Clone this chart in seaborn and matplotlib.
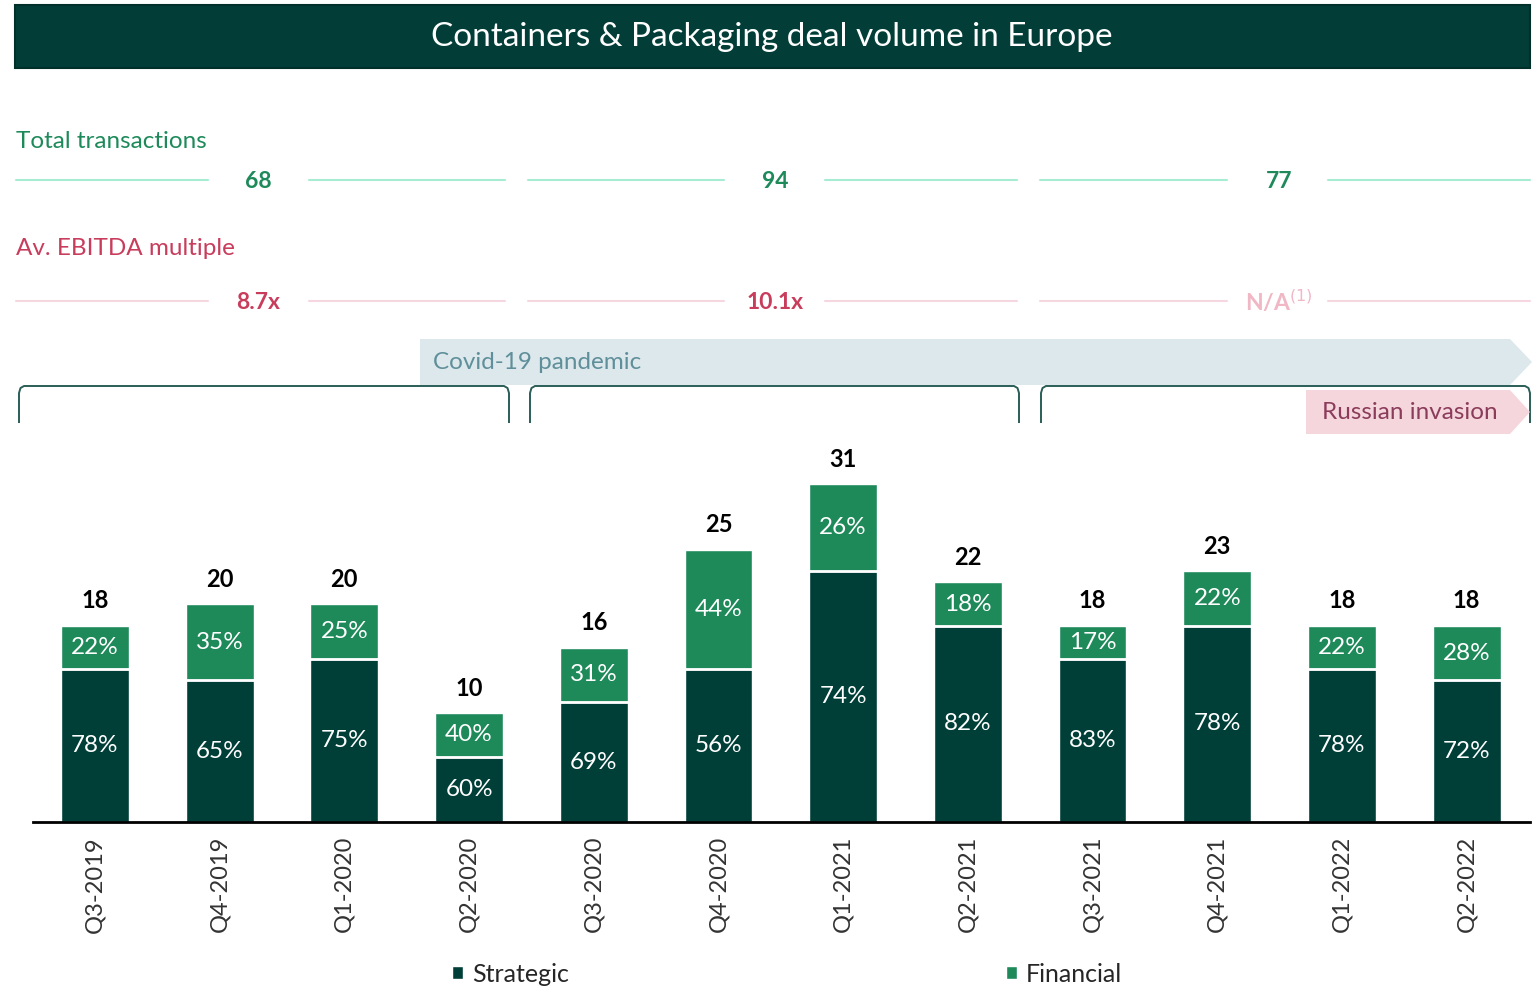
import pandas as pd
import matplotlib.pyplot as plt
from matplotlib.patches import Polygon, Rectangle, Patch
import seaborn as sns

# Data
quarters = ['Q3-2019', 'Q4-2019', 'Q1-2020', 'Q2-2020', 'Q3-2020', 'Q4-2020',
            'Q1-2021', 'Q2-2021', 'Q3-2021', 'Q4-2021', 'Q1-2022', 'Q2-2022']
totals = [18, 20, 20, 10, 16, 25, 31, 22, 18, 23, 18, 18]
strategic = [14, 13, 15, 6, 11, 14, 23, 18, 15, 18, 14, 13]
strategic_pct = ['78%', '65%', '75%', '60%', '69%', '56%', '74%', '82%', '83%', '78%', '78%', '72%']
financial_pct = ['22%', '35%', '25%', '40%', '31%', '44%', '26%', '18%', '17%', '22%', '22%', '28%']
period_transactions = ['68', '94', '77']
period_multiple = ['8.7x', '10.1x', 'N/A$^{(1)}$']

STRAT = '#003f38'
FIN = '#1e8a5a'
BANNER = '#023e37'
MINT = '#a6ecd2'
PINK_LINE = '#f6d6df'
CRIMSON = '#c83c5c'
NA_PINK = '#f0b7c5'
BRACKET = '#2b5e58'

sns.set_theme(style='white')
plt.rcParams['font.family'] = ['Lato', 'DejaVu Sans']

df = pd.DataFrame({'quarter': quarters, 'total': totals, 'strategic': strategic})

W, H = 1538, 988
fig = plt.figure(figsize=(W / 100, H / 100), dpi=100)

# decoration layer in pixel coordinates
deco = fig.add_axes([0, 0, 1, 1], zorder=0)
deco.set_xlim(0, W)
deco.set_ylim(H, 0)
deco.axis('off')

# title banner
deco.add_patch(Rectangle((15, 5), 1515, 63, facecolor=BANNER, edgecolor='#01302a', lw=1.5))
deco.text(772, 37, 'Containers & Packaging deal volume in Europe', color='white',
          fontsize=24, ha='center', va='center')

# period summaries
deco.text(16, 141, 'Total transactions', color=FIN, fontsize=17.5, va='center')
deco.text(16, 248, 'Av. EBITDA multiple', color=CRIMSON, fontsize=17.5, va='center')
segments = [(16, 208, 309, 505, 258), (528, 724, 825, 1017, 775), (1040, 1227, 1328, 1530, 1279)]
for (a, b, c, d, cx), tr, mu in zip(segments, period_transactions, period_multiple):
    deco.plot([a, b], [180, 180], color=MINT, lw=1.5)
    deco.plot([c, d], [180, 180], color=MINT, lw=1.5)
    deco.plot([a, b], [301, 301], color=PINK_LINE, lw=1.5)
    deco.plot([c, d], [301, 301], color=PINK_LINE, lw=1.5)
    deco.text(cx, 182, tr, color=FIN, fontsize=16.5, fontweight='bold', ha='center', va='center')
    col = NA_PINK if mu.startswith('N/A') else CRIMSON
    deco.text(cx, 302, mu, color=col, fontsize=16.5, fontweight='bold', ha='center', va='center')

# Covid-19 arrow banner
deco.add_patch(Polygon([(420, 339), (1510, 339), (1532, 362), (1510, 385), (420, 385)],
                       closed=True, facecolor='#dde8ec', edgecolor='none'))
deco.text(433, 362, 'Covid-19 pandemic', color='#5f8f9a', fontsize=17.5, va='center')

# brackets
for left, right in [(19, 509), (530, 1019), (1041, 1530)]:
    xs = [left, left, left + 1.5, left + 5, right - 5, right - 1.5, right, right]
    ys = [423, 393, 388, 386, 386, 388, 393, 423]
    deco.plot(xs, ys, color=BRACKET, lw=1.4, solid_capstyle='butt')

# Russian invasion arrow
deco.add_patch(Polygon([(1306, 390), (1510, 390), (1530, 412), (1510, 434), (1306, 434)],
                       closed=True, facecolor='#f5d6dd', edgecolor='none', zorder=3))
deco.text(1322, 412, 'Russian invasion', color='#8b3c5a', fontsize=17.5, va='center', zorder=4)

# bar chart
ax = fig.add_axes([33 / W, (H - 822) / H, (1530 - 33) / W, (822 - 440) / H], zorder=2)
ax.patch.set_alpha(0)
sns.barplot(data=df, x='quarter', y='total', color=FIN, saturation=1, width=0.544, ax=ax)
n_fin = len(ax.patches)
sns.barplot(data=df, x='quarter', y='strategic', color=STRAT, saturation=1, width=0.544, ax=ax)
fin_bars = ax.patches[:n_fin]
str_bars = ax.patches[n_fin:]

for fb, sb, tot, sp, fp in zip(fin_bars, str_bars, totals, strategic_pct, financial_pct):
    x0, w = sb.get_x(), sb.get_width()
    xc = x0 + w / 2
    s = sb.get_height()
    ax.plot([x0, x0 + w], [s, s], color='white', lw=2, solid_capstyle='butt')
    ax.text(xc, s / 2, sp, color='white', fontsize=17.5, ha='center', va='center')
    ax.text(xc, (s + tot) / 2, fp, color='white', fontsize=17.5, ha='center', va='center')
    ax.annotate(str(tot), (xc, tot), xytext=(0, 18), textcoords='offset points',
                ha='center', va='center', fontsize=17, fontweight='bold', color='black')

ax.set_xlim(-0.497, 11.508)
ax.set_ylim(0, 35.05)
ax.set_xlabel('')
ax.set_ylabel('')
ax.set_yticks([])
ax.tick_params(axis='x', length=0, pad=10, labelsize=17, labelcolor='#333333')
plt.setp(ax.get_xticklabels(), rotation=90, va='top', ha='center')
for side in ['top', 'right', 'left']:
    ax.spines[side].set_visible(False)
ax.spines['bottom'].set_color('black')
ax.spines['bottom'].set_linewidth(2)

handles = [Patch(facecolor=STRAT, label='Strategic'), Patch(facecolor=FIN, label='Financial')]
fig.legend(handles=handles, loc='center', bbox_to_anchor=(787 / W, 1 - 974 / H), ncol=2,
           frameon=False, fontsize=18, handlelength=0.45, handleheight=0.45,
           handletextpad=0.35, columnspacing=17.5)

fig.savefig('out.png', dpi=100)
